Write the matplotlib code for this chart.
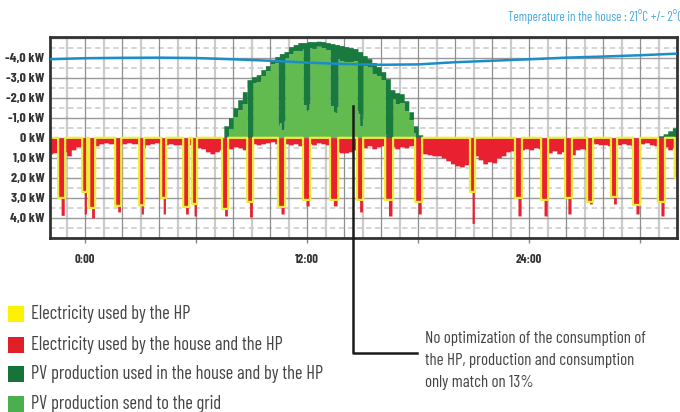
import numpy as np
import matplotlib
matplotlib.use("Agg")
import matplotlib.pyplot as plt
from matplotlib.lines import Line2D
from matplotlib.patches import Rectangle

FONT = ['Barlow Condensed', 'Roboto Condensed', 'Archivo Narrow', 'DejaVu Sans']

# ---------------- data ----------------
# house + HP base consumption (kW), 15-minute steps from -2:00 to 32:00
base_start = -2.0
base_step = 0.25
base_kw = [
    0.8, 0.75, 0.55, 0.7,   0.9, 0.6, 0.45, 0.5,
    0.45, 0.35, 0.4, 0.3,   0.25, 0.3, 0.3, 0.35,
    0.3, 0.25, 0.3, 0.3,    0.5, 0.35, 0.3, 0.25,
    0.3, 0.35, 0.3, 0.35,   0.35, 0.4, 0.35, 0.45,
    0.5, 0.55, 0.7, 0.8,    0.7, 0.6, 0.7, 0.55,
    0.45, 0.5, 0.6, 0.4,    0.3, 0.35, 0.3, 0.25,
    0.2, 0.3, 0.25, 0.3,    0.35, 0.3, 0.4, 0.3,
    0.3, 0.35, 0.25, 0.3,   0.35, 0.45, 0.7, 0.75,
    0.75, 0.7, 0.6, 0.5,    0.5, 0.4, 0.55, 0.45,
    0.4, 0.5, 0.45, 0.55,   0.45, 0.5, 0.4, 0.35,
    0.75, 0.8, 0.85, 0.9,   0.9, 1.0, 1.15, 1.3,
    1.4, 1.45, 1.35, 1.3,   0.9, 1.1, 1.3, 1.2,
    1.25, 1.0, 0.9, 0.7,    0.65, 0.7, 0.6, 0.55,
    0.6, 0.5, 0.55, 0.6,    0.75, 0.65, 0.8, 0.7,
    0.7, 0.85, 0.6, 0.55,   0.6, 0.25, 0.3, 0.35,
    0.35, 0.4, 0.3, 0.35,   0.3, 0.35, 0.4, 0.35,
    0.3, 0.25, 0.35, 0.4,   0.5, 0.45, 0.6, 0.5,
]

# heat pump cycles: start / end (h), HP power (kW), peak total consumption (kW)
hp_start = [-1.46, -0.16, 0.22, 1.62, 2.92, 4.11, 5.30, 5.78, 7.40, 8.76, 10.43, 11.78, 13.24,
            14.70, 16.22, 17.84, 20.81, 23.24, 24.65, 25.95, 27.14, 28.43, 29.62, 30.97, 31.88]
hp_end = [-1.08, 0.11, 0.54, 1.95, 3.19, 4.38, 5.62, 6.05, 7.73, 9.08, 10.81, 12.16, 13.68,
          15.03, 16.65, 18.22, 21.08, 23.62, 25.03, 26.32, 27.46, 28.76, 30.00, 31.35, 32.20]
hp_kw = [3.0, 2.7, 3.5, 3.4, 3.37, 3.0, 3.45, 3.3, 3.55, 3.2, 3.45, 3.1, 3.1,
         3.1, 3.1, 3.2, 2.7, 3.0, 3.1, 3.0, 3.2, 2.95, 3.35, 3.2, 2.0]
peak_kw = [3.87, 3.8, 4.0, 3.7, 3.8, 3.8, 3.8, 3.9, 3.9, 3.95, 3.8, 3.4, 3.4,
           3.7, 3.9, 3.8, 4.27, 3.9, 3.9, 3.8, 3.3, 3.3, 3.8, 3.9, 2.2]

# PV production (kW), 15-minute steps
pv1_start = 7.0
pv1_kw = [0, 0, 0.6, 1.0, 1.5, 1.9, 2.3, 2.9, 3.05, 3.15, 3.4, 3.6, 3.9, 4.05, 4.2, 4.3,
          4.55, 4.65, 4.75, 4.75, 4.8, 4.8, 4.82, 4.8, 4.75, 4.7, 4.65, 4.6, 4.55, 4.5,
          4.45, 4.3, 4.1, 3.95, 3.75, 3.55, 3.3, 2.95, 2.4, 2.25, 2.2, 1.85, 1.3, 0.6, 0.15, 0]
pv2_start = 31.0
pv2_kw = [0.1, 0.2, 0.35, 0.5]

# indoor temperature (degC), every 2 hours
temp_hours = [-2, 0, 2, 4, 6, 8, 10, 12, 14, 16, 18, 20, 22, 24, 26, 28, 30, 32]
temp_c = [21.78, 21.84, 21.86, 21.87, 21.85, 21.78, 21.70, 21.60, 21.52, 21.48, 21.50,
          21.62, 21.70, 21.78, 21.87, 21.93, 22.00, 22.09]

ytick_vals = [-4, -3, -2, -1, 0, 1, 2, 3, 4]
ytick_labels = ['-4,0 kW', '-3,0 kW', '-2,0 kW', '-1,0 kW', '0 kW', '1,0 kW', '2,0 kW', '3,0 kW', '4,0 kW']
xtick_vals = [0, 6, 12, 18, 24, 30]
xtick_labels = ['0:00', '', '12:00', '', '24:00', '']

legend_labels = ['Electricity used by the HP', 'Electricity used by the house and the HP',
                 'PV production used in the house and by the HP', 'PV production send to the grid']
note_lines = ['No optimization of the consumption of', 'the HP, production and consumption',
              'only match on 13%']
title_text = 'Temperature in the house : 21°C +/- 2°C'

# ---------------- build series on a fine time grid ----------------
dt = 0.01
t = np.arange(-2.0, 32.3, dt)
idx = np.clip(((t - base_start) / base_step).astype(int), 0, len(base_kw) - 1)
cons = np.array(base_kw)[idx]
hp = np.zeros_like(t)
for s0, s1, h, p in zip(hp_start, hp_end, hp_kw, peak_kw):
    m = (t >= s0) & (t < s1)
    hp[m] = h
    cons[m] = np.maximum(cons[m], h)
    d = s1 - s0
    mp = (t >= s0 + 0.4 * d) & (t < s0 + 0.85 * d)
    cons[mp] = p

pv = np.zeros_like(t)
for st, vals in ((pv1_start, pv1_kw), (pv2_start, pv2_kw)):
    k = ((t - st) / base_step).astype(int)
    m = (t >= st) & (k < len(vals))
    pv[m] = np.array(vals)[k[m]]

self_used = np.minimum(pv, cons)
export = pv - self_used

# ---------------- figure ----------------
W, H = 680, 412
fig = plt.figure(figsize=(W / 100, H / 100), dpi=100)
ax = fig.add_axes([50 / W, 1 - 238 / H, 627 / W, 201 / H])
ax.set_xlim(-1.9, 32.0)
ax.set_ylim(5.0, -5.03)

# grid
for v in np.arange(-5, 5.01, 0.5):
    if abs(v - round(v)) < 1e-6:
        ax.axhline(v, color='#9a9a9a', lw=1.0, zorder=0.5)
    else:
        ax.axhline(v, color='#d2d2d2', lw=1.3, dashes=(3, 2), zorder=0.4)
for hh in range(-1, 32):
    if hh % 2 == 0:
        ax.axvline(hh, color='#8f8f8f', lw=0.9, zorder=0.5)
    else:
        ax.axvline(hh, color='#cbcbcb', lw=1.6, zorder=0.4)

RED = '#e8202f'
YEL = '#eeee3a'
DG = '#187a3c'
LG = '#62bb4e'

ax.fill_between(t, 0, -export, step='post', color=LG, lw=0, zorder=2)
ax.fill_between(t, -export, -pv, step='post', color=DG, lw=0, zorder=2)
ax.fill_between(t, 0, cons, step='post', color=RED, lw=0, zorder=2)
ax.step(t, hp, where='post', color=YEL, lw=1.6, zorder=3)

ax2 = ax.twinx()
ax2.set_ylim(12, 23)
ax2.plot(temp_hours, temp_c, color='#1b8dc8', lw=1.8, zorder=4)
ax2.set_yticks([])
for sp in ax2.spines.values():
    sp.set_visible(False)

ax.set_yticks(ytick_vals)
ax.set_yticklabels(ytick_labels, fontfamily=FONT, fontweight='bold', fontsize=10, color='#333333')
ax.tick_params(axis='y', length=0, pad=4)
ax.set_xticks(xtick_vals)
ax.set_xticklabels(xtick_labels, fontfamily=FONT, fontweight='bold', fontsize=9, color='#333333')
ax.tick_params(axis='x', length=3.5, width=1, color='#888888', pad=8)
for sp in ax.spines.values():
    sp.set_color('#333333')
    sp.set_linewidth(2)
    sp.set_zorder(6)

# title
fig.text(508 / W, 1 - 17 / H, title_text, color='#45a8dc', fontsize=9.3, fontfamily=FONT,
         ha='left', va='center')

# legend
leg_colors = ['#fff200', '#e21f26', '#16733a', '#4bae4f']
row_y = [314, 344.5, 374, 404]
for c, lab, y in zip(leg_colors, legend_labels, row_y):
    fig.patches.append(Rectangle((8 / W, 1 - (y + 8) / H), 16 / W, 16 / H,
                                 transform=fig.transFigure, color=c, lw=0))
    fig.text(31 / W, 1 - y / H, lab, color='#444444', fontsize=13.3, fontfamily=FONT,
             ha='left', va='center')

# annotation
fig.canvas.draw()
px = ax.transData.transform((14.5, -1.6))
inv = fig.transFigure.inverted()
p0 = inv.transform(px)
fig.lines.append(Line2D([p0[0], p0[0], 417 / W], [p0[1], 1 - 353 / H, 1 - 353 / H],
                        transform=fig.transFigure, color='#1a1a1a', lw=1.8, zorder=10))
for i, line in enumerate(note_lines):
    fig.text(425 / W, 1 - (338 + 22 * i) / H, line, color='#444444', fontsize=12.2,
             fontfamily=FONT, ha='left', va='center')

fig.savefig('out.png', dpi=100)
